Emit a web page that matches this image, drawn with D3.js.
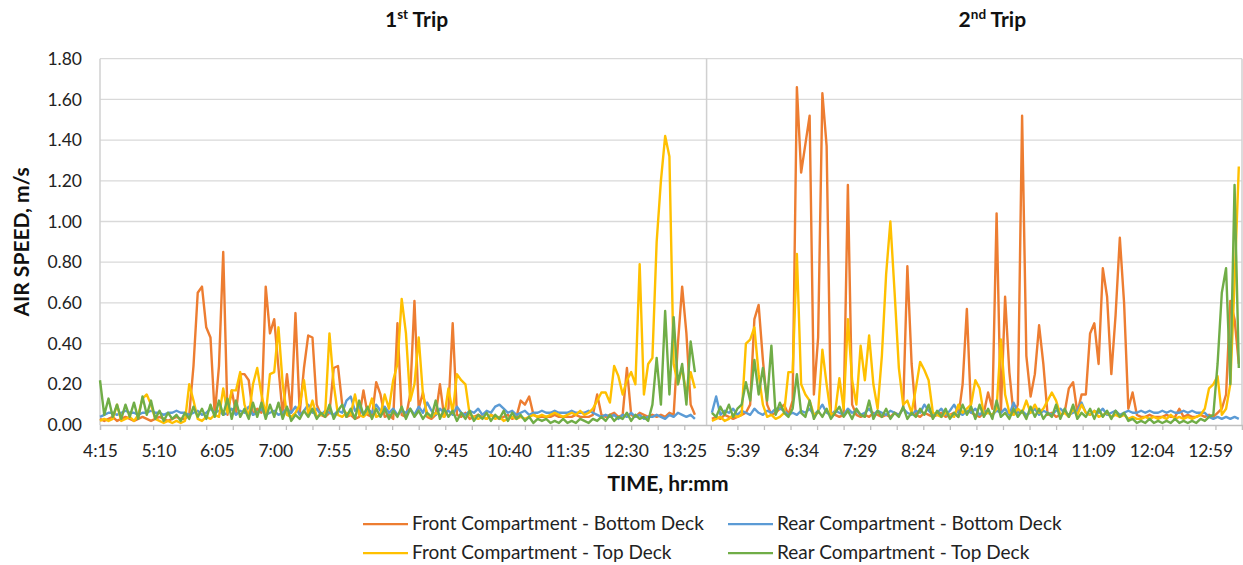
<!DOCTYPE html>
<html>
<head>
<meta charset="utf-8">
<script src="https://cdn.jsdelivr.net/npm/d3@7"></script>
<style>
  body { margin: 0; background: #fff; }
  svg { display: block; font-family: Lato, "Open Sans", sans-serif; }
</style>
</head>
<body>
<svg id="chart" width="1243" height="565"></svg>
<script>
// x axis: one category per minute, every 55th labelled, ticks every 25
var timeLabels = ["4:15","5:10","6:05","7:00","7:55","8:50","9:45","10:40","11:35","12:30","13:25",
                  "5:39","6:34","7:29","8:24","9:19","10:14","11:09","12:04","12:59"];
var labelEvery = 55, tickEvery = 25, totalMinutes = 1075, tripBreak = 571;
var step = 4; // one read value every 4 minutes
var yTicks = [0, 0.2, 0.4, 0.6, 0.8, 1.0, 1.2, 1.4, 1.6, 1.8];
var tripTitles = [{n: "1", sup: "st", at: 298}, {n: "2", sup: "nd", at: 840}];

// air speed, hundredths of m/s (null = gap between trips)
var frontBottom = [
  3,2,3,4,2,3,4,3,2,3, 4,3,2,3,4,3,2,3,4,3, 3,5,29,65,68,48,43,5,29,85,
  5,17,6,25,25,22,5,8,6,68, 45,52,28,5,25,6,55,6,28,44, 43,10,5,4,6,28,29,10,4,5,
  3,4,17,5,4,21,15,4,5,3, 50,5,4,15,61,8,16,4,3,5, 20,4,8,50,5,4,6,3,4,5,
  4,3,5,4,3,4,5,3,4,12, 10,14,5,4,4,4,4,5,4,4, 4,4,5,4,4,4,5,15,5,4,
  5,6,4,5,28,5,4,6,5,4, 5,4,5,4,6,5,40,68,45,10,5,
  null,null,null,
  3,4,3,5,4,3,
  4,5,6,10,52,59,32,10,5,6, 8,10,5,12,166,124,138,152,15,43, 163,137,6,5,4,5,118,10,5,4,
  5,4,6,5,4,5,4,6,5,8, 78,30,5,4,6,5,4,5,6,4, 5,6,4,20,57,6,5,4,6,16,
  8,104,6,63,26,5,10,152,34,14, 25,49,30,5,6,4,5,6,18,21, 6,15,15,45,50,30,77,63,25,54,
  92,60,8,16,5,4,4,5,4,4, 4,5,4,4,8,4,5,4,4,5, 4,5,4,6,8,15,61,52,30
];
var rearBottom = [
  4,5,6,6,5,6,7,6,6,5, 6,6,7,6,6,5,6,6,7,6, 6,5,6,7,5,6,8,6,7,5,
  6,8,5,7,6,9,5,6,8,5, 6,7,5,6,8,6,9,5,7,10, 6,8,5,7,6,5,7,6,12,14,
  7,9,5,8,6,10,7,9,6,8, 5,7,6,8,5,9,6,11,7,5, 8,6,7,5,9,6,5,7,6,8,
  5,7,6,9,10,8,6,7,5,6, 7,5,6,6,7,6,6,7,6,6, 6,7,6,6,6,7,6,5,4,5,
  4,5,3,5,4,6,4,5,3,4, 4,5,4,3,5,4,6,5,4,5,3,
  null,null,null,
  6,14,5,7,6,8,
  5,7,6,5,8,6,5,7,6,8, 8,7,5,6,5,7,6,8,5,7, 10,6,5,7,6,5,8,6,7,5,
  6,8,5,7,6,5,7,6,5,8, 6,5,7,6,10,7,5,6,8,5, 7,10,6,5,7,6,8,5,7,6,
  5,7,6,8,5,11,6,7,5,6, 8,5,7,6,5,7,8,6,5,6, 7,11,6,5,7,6,8,5,6,7,
  5,6,7,6,6,7,6,7,6,6, 7,6,7,6,6,7,6,7,6,6, 6,4,3,4,3,4,3,4,3
];
var frontTop = [
  2,3,2,3,10,2,3,4,2,5, 13,15,10,3,2,1,2,1,2,1, 2,20,12,3,2,4,3,5,4,18,
  6,17,17,26,10,4,20,28,15,5, 25,26,48,20,5,4,6,10,22,5, 12,4,5,6,45,20,5,4,6,5,
  15,5,4,6,13,4,5,15,8,22, 30,62,45,12,20,43,15,5,4,6, 5,4,18,6,25,22,20,5,4,3,
  4,3,5,3,4,2,3,4,3,4, 3,4,5,4,5,4,5,6,5,4, 5,6,5,7,5,6,8,12,16,16,
  11,29,24,15,22,26,20,79,15,30, 33,90,120,142,132,30,20,28,15,26,18,
  null,null,null,
  2,3,4,2,3,5,
  4,5,40,42,48,25,10,4,5,3, 4,6,26,26,84,20,15,12,5,6, 37,20,5,6,23,8,52,22,10,39,
  22,44,20,8,34,74,100,65,28,10, 12,6,18,31,27,22,6,5,4,6, 5,4,10,6,8,10,22,18,5,6,
  5,8,42,15,6,5,8,6,12,6, 10,6,8,12,16,12,5,6,4,8, 5,10,6,5,7,4,5,6,4,5,
  4,5,3,4,3,3,4,3,4,3, 4,3,5,3,4,3,4,3,4,5, 8,18,20,24,5,8,20,70,127
];
var rearTop = [
  22,5,13,4,10,3,10,4,11,3, 14,5,12,3,7,2,6,3,5,2, 6,3,9,4,8,3,10,4,12,5,
  13,3,12,4,8,3,11,4,11,3, 10,4,11,3,9,2,5,3,7,4, 8,3,6,4,10,3,7,10,4,8,
  3,12,5,9,3,8,4,8,3,7, 4,9,3,8,4,7,3,6,4,12, 3,8,4,7,2,6,3,7,2,5,
  3,6,2,5,3,7,2,6,3,5, 2,4,1,3,2,3,1,2,1,3, 1,2,1,3,2,1,3,2,4,2,
  5,2,4,3,6,2,5,3,4,2, 10,33,10,56,15,53,20,30,10,41,26,
  null,null,null,
  6,4,9,5,10,4,
  8,10,21,12,32,15,28,12,39,5, 11,6,4,8,25,6,4,12,3,7, 4,8,3,6,9,4,7,3,8,5,
  4,12,3,7,4,8,3,6,4,9, 3,6,4,8,5,10,3,7,4,8, 3,6,4,10,5,9,3,10,4,8,
  3,12,4,6,3,8,4,7,3,9, 4,8,3,6,4,10,3,8,4,10, 3,6,4,8,3,8,4,7,3,7,
  4,6,2,3,1,2,1,3,1,2, 1,2,1,3,1,2,1,2,1,3, 2,4,5,30,65,77,20,118,28
];

var series = [
  {name: "Front Compartment - Bottom Deck", color: "#ED7D31", values: frontBottom},
  {name: "Rear Compartment - Bottom Deck",  color: "#5B9BD5", values: rearBottom},
  {name: "Front Compartment - Top Deck",    color: "#FFC000", values: frontTop},
  {name: "Rear Compartment - Top Deck",     color: "#70AD47", values: rearTop}
];

var svg = d3.select("#chart");
var plotLeft = 100, plotRight = 1242, plotTop = 58.7, plotBottom = 425;

var x = d3.scaleLinear().domain([0, totalMinutes]).range([plotLeft, plotRight]);
var y = d3.scaleLinear().domain([0, 1.8]).range([plotBottom, plotTop]);

// gridlines
svg.append("g").selectAll("line").data(yTicks.slice(1)).enter().append("line")
  .attr("x1", plotLeft).attr("x2", plotRight)
  .attr("y1", function(d) { return y(d); }).attr("y2", function(d) { return y(d); })
  .attr("stroke", "#d9d9d9").attr("stroke-width", 1.3);

// vertical borders and trip separator
[0, tripBreak, totalMinutes].forEach(function(m) {
  svg.append("line")
    .attr("x1", x(m)).attr("x2", x(m)).attr("y1", plotTop).attr("y2", plotBottom)
    .attr("stroke", "#d0d0d0").attr("stroke-width", 1.5);
});

// y axis labels
var yAxis = svg.append("g")
  .attr("transform", "translate(" + plotLeft + ",0)")
  .call(d3.axisLeft(y).tickValues(yTicks).tickFormat(d3.format(".2f")).tickSize(0).tickPadding(18));
yAxis.select(".domain").remove();
yAxis.selectAll("text").attr("font-size", 17.5).attr("fill", "#222").attr("font-family", "Lato");

// x axis: tick marks every 25 minutes, labels every 55
var xAxis = svg.append("g")
  .attr("transform", "translate(0," + plotBottom + ")")
  .call(d3.axisBottom(x).tickValues(d3.range(0, totalMinutes + 1, tickEvery)).tickSize(5).tickFormat(""));
xAxis.select(".domain").attr("stroke", "#bfbfbf").attr("stroke-width", 1.3);
xAxis.selectAll(".tick line").attr("stroke", "#bfbfbf").attr("stroke-width", 1.3);

var xLab = svg.append("g")
  .attr("transform", "translate(0," + plotBottom + ")")
  .call(d3.axisBottom(x).tickValues(timeLabels.map(function(d, i) { return i * labelEvery; }))
    .tickSize(0).tickPadding(20).tickFormat(function(d, i) { return timeLabels[i]; }));
xLab.select(".domain").remove();
xLab.selectAll("text").attr("font-size", 17.5).attr("fill", "#222").attr("font-family", "Lato");

// series lines (drawn in Excel's order: last one on top)
var line = d3.line()
  .defined(function(d) { return d != null; })
  .x(function(d, i) { return x(i * step); })
  .y(function(d) { return y(d / 100); });

svg.append("g").selectAll("path").data(series).enter().append("path")
  .attr("d", function(s) { return line(s.values); })
  .attr("fill", "none")
  .attr("stroke", function(s) { return s.color; })
  .attr("stroke-width", 2.4)
  .attr("stroke-linejoin", "round");

// trip titles with superscripts
tripTitles.forEach(function(t) {
  var tx = svg.append("text")
    .attr("x", x(t.at)).attr("y", 27)
    .attr("text-anchor", "middle")
    .attr("font-size", 21).attr("font-weight", "bold").attr("fill", "#111");
  tx.append("tspan").text(t.n);
  tx.append("tspan").text(t.sup).attr("font-size", 13.5).attr("dy", -8);
  tx.append("tspan").text(" Trip").attr("dy", 8);
});

// axis titles
svg.append("text")
  .attr("x", (plotLeft + plotRight) / 2 - 3).attr("y", 491)
  .attr("text-anchor", "middle").attr("font-size", 21).attr("font-weight", "bold").attr("fill", "#111")
  .text("TIME, hr:mm");
svg.append("text")
  .attr("transform", "translate(29," + ((plotTop + plotBottom) / 2) + ") rotate(-90)")
  .attr("text-anchor", "middle").attr("font-size", 21).attr("font-weight", "bold").attr("fill", "#111")
  .text("AIR SPEED, m/s");

// legend, two columns
var legend = svg.append("g");
series.forEach(function(s, i) {
  var lx = i % 2 === 0 ? 363 : 728;
  var ly = i < 2 ? 524 : 553;
  legend.append("line")
    .attr("x1", lx).attr("x2", lx + 45).attr("y1", ly).attr("y2", ly)
    .attr("stroke", s.color).attr("stroke-width", 2.25);
  legend.append("text")
    .attr("x", lx + 49).attr("y", ly + 6)
    .attr("font-size", 19).attr("fill", "#222")
    .text(s.name);
});
</script>
</body>
</html>
